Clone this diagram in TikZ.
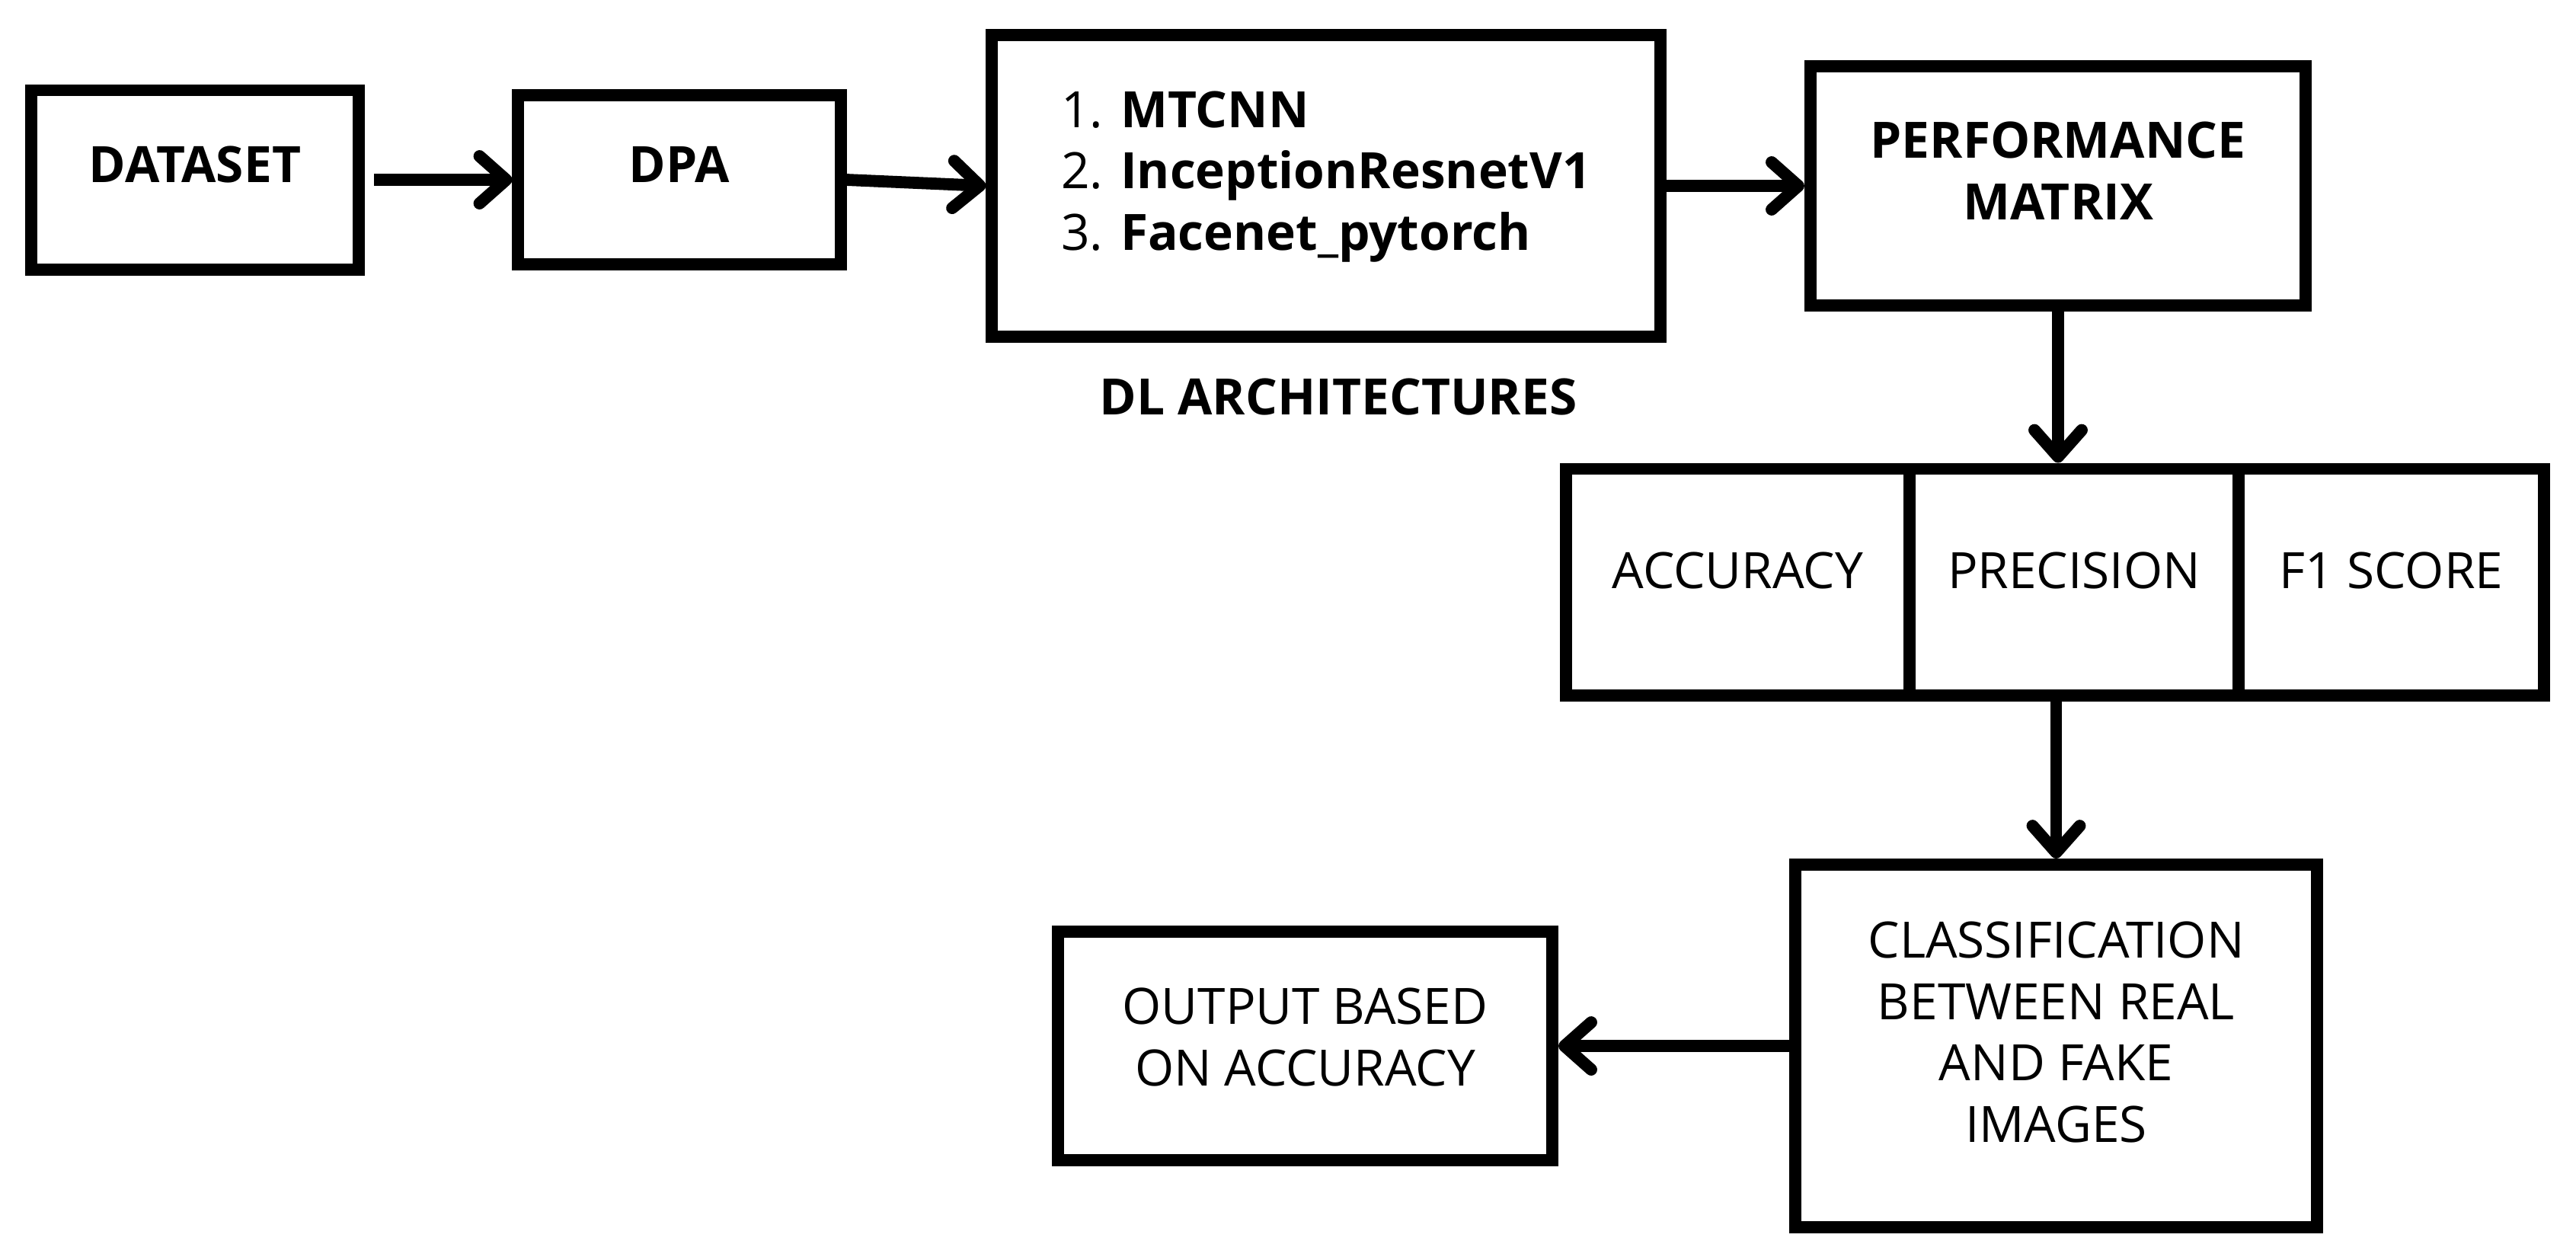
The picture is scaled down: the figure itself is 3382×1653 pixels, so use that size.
\documentclass[tikz,border=0pt]{standalone}
\usepackage{fontspec}
\setmainfont{Open Sans}
\usetikzlibrary{arrows.meta,positioning}

\begin{document}
\begin{tikzpicture}[x=0.01cm, y=-0.01cm, line width=4.5pt,
    font=\fontsize{18.7pt}{22.9pt}\selectfont]
\tikzstyle{stage}=[draw, align=center, inner sep=0pt, text depth=0.4cm]
\tikzstyle{flow}=[-{Straight Barb[length=0.35cm, width=0.62cm, round]}]
\useasboundingbox (0,0) rectangle (3382,1653);

% top row
\node[stage, minimum width=4.30cm, minimum height=2.35cm] (dataset) at (256,236) {\textbf{DATASET}};
\node[stage, minimum width=4.23cm, minimum height=2.22cm] (dpa) at (892,236) {\textbf{DPA}};
\node[stage, align=left, minimum width=8.77cm, minimum height=3.96cm] (dl) at (1741,244)
    {1. \textbf{MTCNN}\\2. \textbf{InceptionResnetV1}\\3. \textbf{Facenet\_pytorch}};
\node[font=\fontsize{18.7pt}{22.9pt}\selectfont\bfseries] (dllabel) at (1757,521) {DL ARCHITECTURES};
\node[stage, minimum width=6.50cm, minimum height=3.14cm] (perf) at (2702,244)
    {\textbf{PERFORMANCE}\\\textbf{MATRIX}};

% metrics
\node[stage, text depth=0.3cm, minimum width=4.51cm, minimum height=2.97cm] (acc) at (2281.5,764) {ACCURACY};
\node[stage, text depth=0.3cm, minimum width=4.32cm, minimum height=2.97cm] (prec) at (2723,764) {PRECISION};
\node[stage, text depth=0.3cm, minimum width=4.01cm, minimum height=2.97cm] (fone) at (3139.5,764) {F1 SCORE};

% bottom row
\node[stage, text depth=0.37cm, minimum width=6.85cm, minimum height=4.76cm] (classify) at (2699.5,1373)
    {CLASSIFICATION\\BETWEEN REAL\\AND FAKE\\IMAGES};
\node[stage, text depth=0.24cm, minimum width=6.49cm, minimum height=3.00cm] (output) at (1713.5,1373)
    {OUTPUT BASED\\ON ACCURACY};

% connectors
\draw[flow, shorten <=0.12cm] (dataset.east) -- (dpa.west);
\draw[flow] (dpa.east) -- (dl.west);
\draw[flow] (dl.east) -- (perf.west);
\draw[flow] (perf.south) -- (perf.south |- prec.north);
\draw[flow] (classify.north |- prec.south) -- (classify.north);
\draw[flow] (classify.west) -- (output.east);
\end{tikzpicture}
\end{document}
